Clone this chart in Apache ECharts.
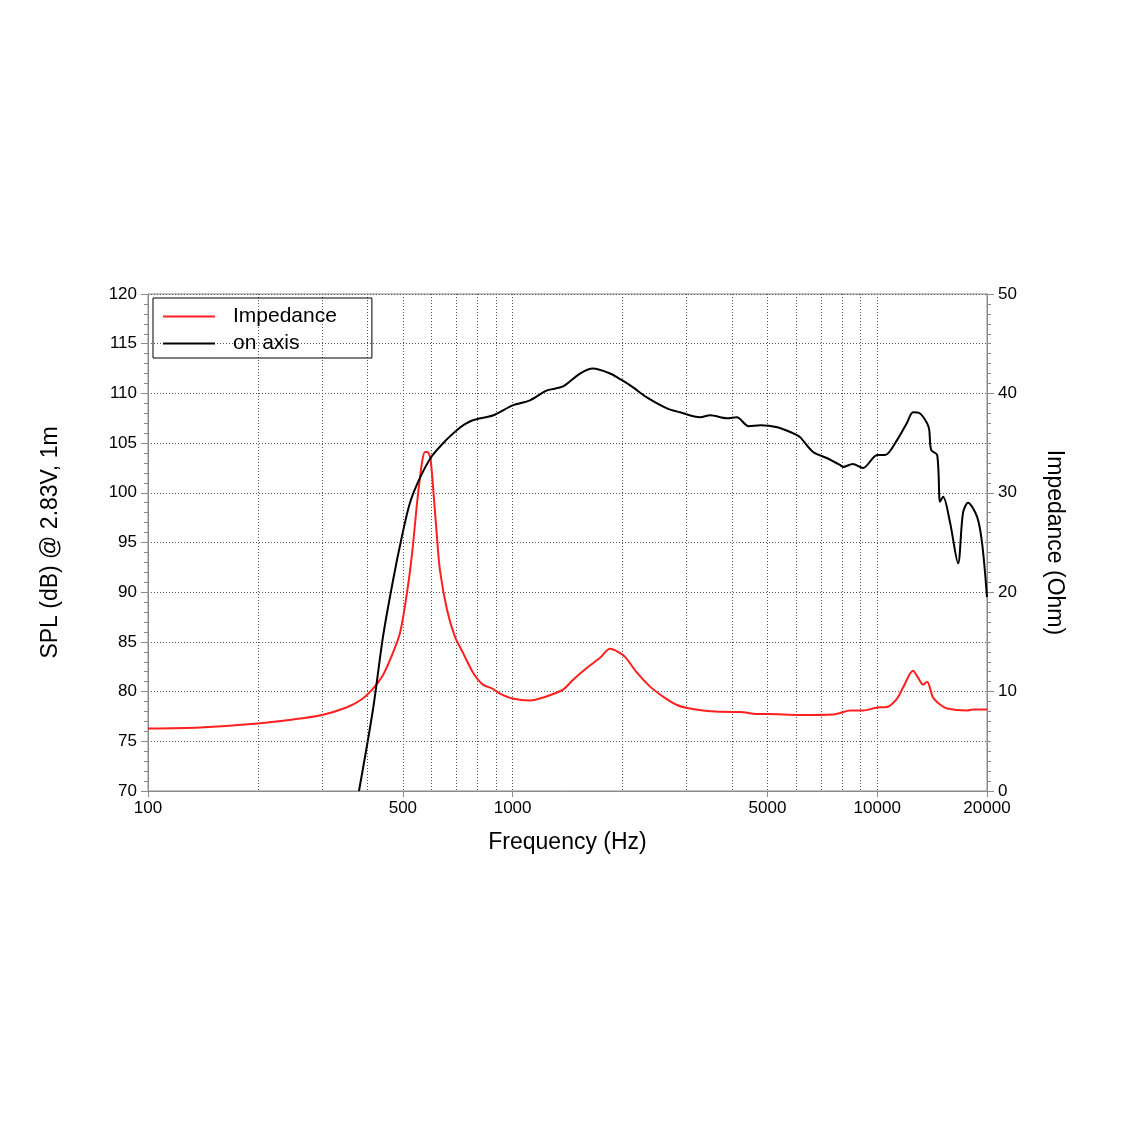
<!DOCTYPE html>
<html>
<head>
<meta charset="utf-8">
<script src="https://cdn.jsdelivr.net/npm/echarts@6/dist/echarts.min.js"></script>
<style>
  html, body { margin: 0; padding: 0; background: #fff; }
  #chart { width: 1134px; height: 1134px; }
</style>
</head>
<body>
<div id="chart"></div>
<script>
// frequency grid (Hz)
const gridFreqs = [100, 200, 300, 400, 500, 600, 700, 800, 900, 1000, 2000, 3000, 4000, 5000, 6000, 7000, 8000, 9000, 10000, 20000];
const labelFreqs = [100, 500, 1000, 5000, 10000, 20000];

// impedance curve (Ohm)
const impFreq = [100, 139, 200, 250, 300, 350, 385, 414, 440, 461, 491, 513, 530, 547, 564, 575, 583, 594, 605, 620, 632, 661, 695, 731, 779, 829, 880, 923, 1000, 1116, 1212, 1375, 1465, 1600, 1737, 1850, 1945, 2034, 2193, 2382, 2585, 2824, 3008, 3414, 4023, 4204, 4681, 5000, 6141, 7565, 7907, 8425, 9144, 9989, 10641, 11330, 11770, 12538, 12940, 13358, 13698, 14225, 14866, 15538, 17636, 18315, 20000];
const impOhm = [6.3, 6.4, 6.8, 7.2, 7.65, 8.4, 9.2, 10.3, 11.6, 13.18, 15.9, 19.9, 23.9, 29.0, 33.0, 34.1, 34.1, 33.6, 30.6, 25.6, 22.2, 18.2, 15.5, 13.9, 11.9, 10.7, 10.3, 9.8, 9.3, 9.1, 9.4, 10.2, 11.2, 12.4, 13.4, 14.3, 14.0, 13.5, 11.9, 10.5, 9.5, 8.65, 8.35, 8.05, 7.95, 7.95, 7.75, 7.75, 7.65, 7.7, 7.85, 8.1, 8.1, 8.4, 8.45, 9.3, 10.4, 12.1, 11.4, 10.7, 11.0, 9.4, 8.7, 8.3, 8.1, 8.2, 8.2];

// on-axis SPL (dB)
const splFreq = [379, 414, 441, 470, 497, 523, 557, 601, 661, 703, 740, 778, 886, 1000, 1116, 1243, 1375, 1530, 1660, 1850, 2000, 2140, 2334, 2650, 2880, 3267, 3480, 3870, 4120, 4440, 4780, 5320, 5870, 6140, 6670, 7270, 7900, 8050, 8570, 9140, 10000, 10500, 11330, 12050, 12540, 13080, 13700, 13890, 14060, 14600, 14870, 15160, 15840, 16660, 17190, 17740, 18780, 19380, 20000];
const splDb = [70, 78.2, 85.5, 91.2, 95.6, 99.0, 101.5, 103.7, 105.4, 106.3, 106.9, 107.3, 107.8, 108.8, 109.3, 110.3, 110.7, 112.0, 112.5, 112.0, 111.3, 110.6, 109.6, 108.5, 108.1, 107.6, 107.8, 107.5, 107.6, 106.7, 106.8, 106.6, 106.0, 105.6, 104.1, 103.5, 102.8, 102.6, 102.9, 102.5, 103.8, 103.8, 105.3, 107.0, 108.1, 108.0, 107.0, 106.3, 104.3, 103.8, 99.1, 99.6, 97.0, 92.9, 98.0, 99.0, 97.6, 95.0, 89.5];

const FONT = "'Liberation Sans', Arial, Helvetica, sans-serif";
const AXIS_GRAY = '#8a8a8a';
const GRID_LINE = { type: [1, 2], color: '#555', width: 1 };

const chart = echarts.init(document.getElementById('chart'));

const option = {
  backgroundColor: '#fff',
  animation: false,
  textStyle: { fontFamily: FONT, color: '#000' },
  grid: {
    left: 148, top: 294, width: 839, height: 497,
    show: true, borderColor: AXIS_GRAY, borderWidth: 1,
    containLabel: false,
  },
  legend: {
    orient: 'vertical',
    left: 153, top: 298,
    borderColor: '#000', borderWidth: 1,
    padding: [8, 35, 4, 10],
    itemGap: 6,
    itemWidth: 52, itemHeight: 2,
    icon: 'rect',
    textStyle: { fontSize: 21, color: '#000', fontFamily: FONT, padding: [0, 0, 0, 13] },
    data: ['Impedance', 'on axis'],
  },
  xAxis: [
    {
      // vertical grid lines
      type: 'log', logBase: 10, min: 100, max: 20000, position: 'bottom',
      axisLine: { show: false },
      axisTick: { show: false, customValues: gridFreqs },
      axisLabel: { show: false },
      splitLine: { show: true, lineStyle: GRID_LINE },
    },
    {
      type: 'log', logBase: 10, min: 100, max: 20000, position: 'bottom',
      name: 'Frequency (Hz)', nameLocation: 'middle', nameGap: 40,
      nameTextStyle: { fontSize: 23, color: '#000', fontFamily: FONT },
      axisLine: { show: true, lineStyle: { color: AXIS_GRAY } },
      axisTick: { show: true, length: 6, customValues: labelFreqs, lineStyle: { color: AXIS_GRAY } },
      axisLabel: {
        customValues: labelFreqs, margin: 9, fontSize: 17, color: '#000', fontFamily: FONT,
        formatter: v => String(Math.round(v)),
      },
      splitLine: { show: false },
    },
  ],
  yAxis: [
    {
      type: 'value', min: 70, max: 120, interval: 5, position: 'left',
      name: 'SPL (dB) @ 2.83V, 1m', nameLocation: 'middle', nameGap: 86,
      nameTextStyle: { fontSize: 23, color: '#000', fontFamily: FONT },
      axisLine: { show: true, lineStyle: { color: AXIS_GRAY } },
      axisTick: { show: true, length: 7, lineStyle: { color: AXIS_GRAY } },
      minorTick: { show: true, splitNumber: 5, length: 4, lineStyle: { color: AXIS_GRAY } },
      axisLabel: { margin: 11, fontSize: 17, color: '#000', fontFamily: FONT },
      splitLine: { show: true, lineStyle: GRID_LINE },
    },
    {
      type: 'value', min: 0, max: 50, interval: 10, position: 'right',
      name: 'Impedance (Ohm)', nameLocation: 'middle', nameGap: 56, nameRotate: -90,
      nameTextStyle: { fontSize: 23, color: '#000', fontFamily: FONT },
      axisLine: { show: true, lineStyle: { color: AXIS_GRAY } },
      axisTick: { show: true, length: 7, lineStyle: { color: AXIS_GRAY } },
      minorTick: { show: true, splitNumber: 10, length: 4, lineStyle: { color: AXIS_GRAY } },
      axisLabel: { margin: 11, fontSize: 17, color: '#000', fontFamily: FONT },
      splitLine: { show: false },
    },
  ],
  series: [
    {
      name: 'Impedance', type: 'line', xAxisIndex: 1, yAxisIndex: 1,
      data: impFreq.map((f, i) => [f, impOhm[i]]),
      showSymbol: false, smooth: 0.3,
      lineStyle: { color: '#ff1f1f', width: 2 },
      itemStyle: { color: '#ff1f1f' },
    },
    {
      name: 'on axis', type: 'line', xAxisIndex: 1, yAxisIndex: 0,
      data: splFreq.map((f, i) => [f, splDb[i]]),
      showSymbol: false, smooth: 0.3,
      lineStyle: { color: '#000', width: 2 },
      itemStyle: { color: '#000' },
    },
  ],
};

chart.setOption(option);
</script>
</body>
</html>
